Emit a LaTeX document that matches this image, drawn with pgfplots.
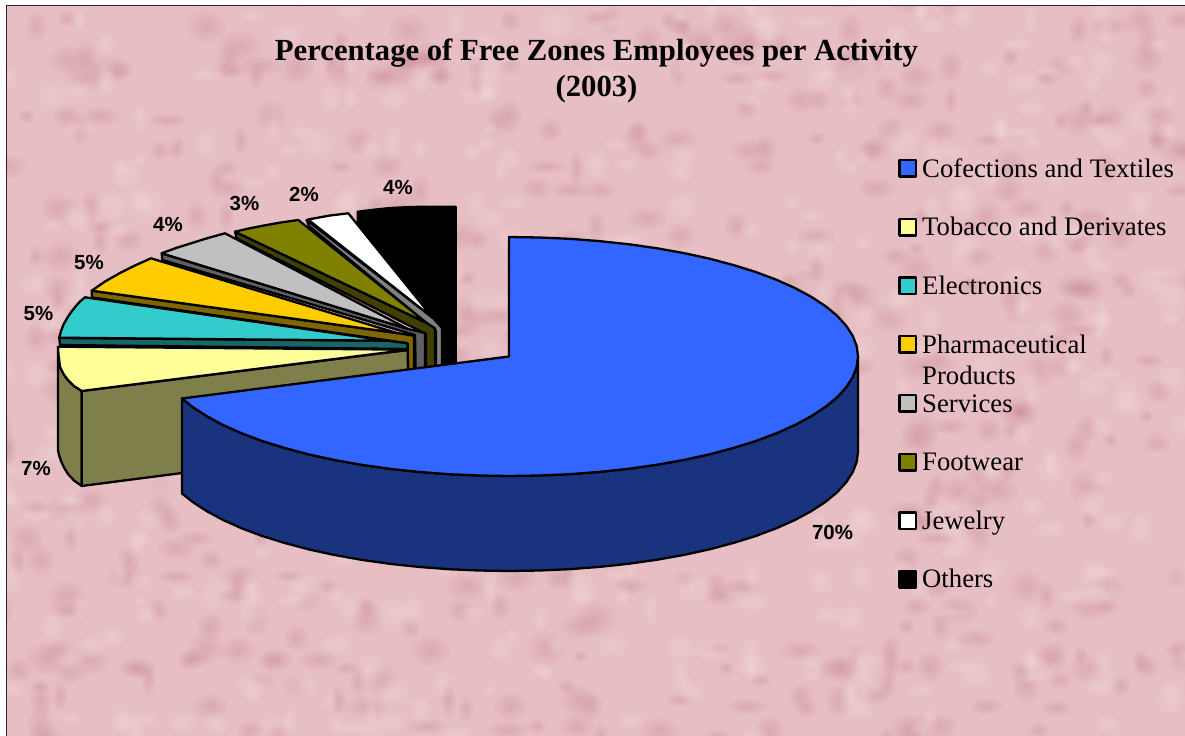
\documentclass[border=0pt]{standalone}
\usepackage{fontspec}
\setmainfont{Liberation Serif}
\newfontfamily\lsans{Liberation Sans}
\usepackage{pgfplots}
\pgfplotsset{compat=1.18}
\usetikzlibrary{fadings}
\tikzfading[name=soft, inner color=transparent!68, outer color=transparent!100]
\definecolor{bgp}{HTML}{E6BEC3}
\definecolor{bgd}{HTML}{C47F89}
\definecolor{bgl}{HTML}{F7E2E4}
\newcount\cA \newcount\cB
\def\setmod#1#2#3{\cA=\numexpr#2\relax \cB=\cA \divide\cB by #3 \multiply\cB by #3 \advance\cA by -\cB \edef#1{\the\cA}}
\begin{document}
\begin{tikzpicture}
\path[use as bounding box] (0,0) rectangle (1185bp,736bp);
\begin{scope}[x=1bp,y=-1bp,yshift=736bp]
\begin{scope}
\clip (7,6) rectangle (1185,736);
\fill[bgp] (7,6) rectangle (1185,736);
% decorative marble texture of the chart's background (no data)
\foreach \i in {1,...,520}{
  \setmod\px{\i*\i*7+\i*389}{1190}
  \setmod\py{\i*\i*3+\i*233}{740}
  \setmod\pa{\i*13}{16}
  \setmod\pb{\i*17}{13}
  \fill[bgd, path fading=soft] (\px,\py) ellipse ({8+\pa} and {7+\pb});
}
\foreach \i in {1,...,480}{
  \setmod\px{\i*\i*11+\i*571}{1190}
  \setmod\py{\i*\i*5+\i*317}{740}
  \setmod\pa{\i*19}{15}
  \setmod\pb{\i*23}{14}
  \fill[bgl, path fading=soft] (\px,\py) ellipse ({8+\pa} and {7+\pb});
}
\end{scope}
\draw[line width=1.6bp,black!85] (6.5,736) -- (6.5,5.5) -- (1185,5.5);
\end{scope}
\begin{axis}[
  at={(0,0)}, anchor=south west, scale only axis,
  width=1185bp, height=736bp,
  xmin=0, xmax=1185, ymin=0, ymax=736, y dir=reverse,
  hide axis, clip=true,
  every axis plot/.append style={line width=2.3bp, line join=round, draw=black},
]
% Others
\addplot[fill=black] coordinates {(357.7,211.7)(374,209.7)(390,208)(406,207.2)(423,206.7)(455.7,206.7)(455.7,372)(442,372)(442,330)(357.7,226)} --cycle;
% Jewelry
\addplot[fill=gray] coordinates {(306.5,220)(309,226)(436,331)(436,372)(442,372)(442,328)(433,318)} --cycle;
\addplot[fill=white] coordinates {(308,219.5)(330,215.5)(348.3,213.3)(433,318)} --cycle;
% Footwear
\addplot[fill={rgb,255:red,64;green,64;blue,0}] coordinates {(235,231.7)(236.7,238.5)(426,334)(426,372)(435,372)(435,328.3)(426.7,323)} --cycle;
\addplot[fill={rgb,255:red,128;green,128;blue,0}] coordinates {(235,231.7)(250,228.2)(266.7,225)(282,222.3)(298.3,220)(426.7,323)} --cycle;
% Services
\addplot[fill={rgb,255:red,96;green,96;blue,96}] coordinates {(161.7,253.3)(162.3,260)(415,335)(415.7,372)(425,372)(425,333)(408,329)} --cycle;
\addplot[fill={rgb,255:red,192;green,192;blue,192}] coordinates {(161.7,253.3)(176,248)(192,243)(208,238)(225,233.3)(408,329)} --cycle;
% Pharmaceutical
\addplot[fill={rgb,255:red,127;green,102;blue,0}] coordinates {(91.7,290.7)(92,297.5)(407.7,343.3)(408,372)(414,372)(414,335.7)(396.7,333)} --cycle;
\addplot[fill={rgb,255:red,255;green,204;blue,0}] coordinates {(91.7,290.7)(105,281.5)(120,273)(135,265.5)(151,258.3)(396.7,333)} --cycle;
% Electronics
\addplot[fill={rgb,255:red,26;green,102;blue,102}] coordinates {(59.3,338)(60,345)(407.5,349)(407.5,343.3)(386.7,340.7)} --cycle;
\addplot[fill={rgb,255:red,51;green,204;blue,204}] coordinates {(59.3,337.7)(61,331)(63.5,324.5)(68,316.7)(72,311)(76,306)(80,301.5)(85,297.3)(386.7,340.7)} --cycle;
% Tobacco
\addplot[fill={rgb,255:red,127;green,127;blue,76}] coordinates {(58,347)(58,450)(59,455)(61,461)(64,467.5)(68,474)(74,480.5)(81.7,486)(81.7,391)(74,386)(68,380)(63.5,374)(60,367)(58.5,355)} --cycle;
\addplot[fill={rgb,255:red,127;green,127;blue,76}] coordinates {(81.7,391)(407.7,350)(408,372)(300,440)(182,473)(81.7,486)} --cycle;
\addplot[fill={rgb,255:red,255;green,255;blue,153}] coordinates {(58,346.7)(58.5,355)(60,367)(63.5,374)(68,380)(74,386)(81.7,391)(390,352)(407.7,350)(407.5,349.5)(390,349.5)} --cycle;
% Confections: side wall, then top
\addplot[fill={rgb,255:red,26;green,51;blue,127}] coordinates {
(858,356.5)(856.7,366.9)(852.7,377.2)(846.1,387.4)(837,397.4)(825.3,407)(811.2,416.2)(794.9,425)(776.3,433.3)(755.8,441)(733.3,448)(709.2,454.4)(683.5,460)(656.5,464.8)(628.4,468.8)(599.3,471.9)(569.6,474.2)(539.4,475.5)(509,476)(478.6,475.5)(448.4,474.2)(418.7,471.9)(389.6,468.8)(361.5,464.8)(334.5,460)(308.8,454.4)(284.7,448)(262.2,441)(241.7,433.3)(223.1,425)(206.8,416.2)(192.7,407)(182,398.5)
(182,493.5)(192.7,502)(206.8,511.2)(223.1,520)(241.7,528.3)(262.2,536)(284.7,543)(308.8,549.4)(334.5,555)(361.5,559.8)(389.6,563.8)(418.7,566.9)(448.4,569.2)(478.6,570.5)(509,571)(539.4,570.5)(569.6,569.2)(599.3,566.9)(628.4,563.8)(656.5,559.8)(683.5,555)(709.2,549.4)(733.3,543)(755.8,536)(776.3,528.3)(794.9,520)(811.2,511.2)(825.3,502)(837,492.4)(846.1,482.4)(852.7,472.2)(856.7,461.9)(858,451.5)} --cycle;
\addplot[fill={rgb,255:red,51;green,102;blue,255}] coordinates {
(509,237)(539.4,237.5)(569.6,238.8)(599.3,241.1)(628.4,244.2)(656.5,248.2)(683.5,253)(709.2,258.6)(733.3,265)(755.8,272)(776.3,279.7)(794.9,288)(811.2,296.8)(825.3,306)(837,315.6)(846.1,325.6)(852.7,335.8)(856.7,346.1)(858,356.5)(856.7,366.9)(852.7,377.2)(846.1,387.4)(837,397.4)(825.3,407)(811.2,416.2)(794.9,425)(776.3,433.3)(755.8,441)(733.3,448)(709.2,454.4)(683.5,460)(656.5,464.8)(628.4,468.8)(599.3,471.9)(569.6,474.2)(539.4,475.5)(509,476)(478.6,475.5)(448.4,474.2)(418.7,471.9)(389.6,468.8)(361.5,464.8)(334.5,460)(308.8,454.4)(284.7,448)(262.2,441)(241.7,433.3)(223.1,425)(206.8,416.2)(192.7,407)(182,398.5)(509,356.5)} --cycle;
% legend swatches
\addplot[line width=2.3bp, fill={rgb,255:red,51;green,102;blue,255}] coordinates {(899.5,160)(916,160)(916,176.5)(899.5,176.5)} --cycle;
\addplot[line width=2.3bp, fill={rgb,255:red,255;green,255;blue,153}] coordinates {(899.5,219)(916,219)(916,235.5)(899.5,235.5)} --cycle;
\addplot[line width=2.3bp, fill={rgb,255:red,51;green,204;blue,204}] coordinates {(899.5,277.5)(916,277.5)(916,294)(899.5,294)} --cycle;
\addplot[line width=2.3bp, fill={rgb,255:red,255;green,204;blue,0}] coordinates {(899.5,336)(916,336)(916,352.5)(899.5,352.5)} --cycle;
\addplot[line width=2.3bp, fill={rgb,255:red,192;green,192;blue,192}] coordinates {(899.5,395)(916,395)(916,411.5)(899.5,411.5)} --cycle;
\addplot[line width=2.3bp, fill={rgb,255:red,128;green,128;blue,0}] coordinates {(899.5,454)(916,454)(916,470.5)(899.5,470.5)} --cycle;
\addplot[line width=2.3bp, fill=white] coordinates {(899.5,512.5)(916,512.5)(916,529)(899.5,529)} --cycle;
\addplot[line width=2.3bp, fill=black] coordinates {(899.5,571)(916,571)(916,587.5)(899.5,587.5)} --cycle;
% title
\node[anchor=base, font=\fontsize{30.8}{34}\selectfont\bfseries, inner sep=0pt] at (axis cs:596.5,60.5) {Percentage of Free Zones Employees per Activity};
\node[anchor=base, font=\fontsize{30.8}{34}\selectfont\bfseries, inner sep=0pt] at (axis cs:596.5,97) {(2003)};
% legend text
\tikzset{lt/.style={anchor=base west, inner sep=0pt, font=\fontsize{26.8}{30}\selectfont},
 pl/.style={anchor=center, inner sep=0pt, font=\fontsize{20.5}{24}\selectfont\lsans\bfseries}}
\node[lt] at (axis cs:922,177.3) {Cofections and Textiles};
\node[lt] at (axis cs:922,235.8) {Tobacco and Derivates};
\node[lt] at (axis cs:922,294.3) {Electronics};
\node[lt] at (axis cs:922,353.3) {Pharmaceutical};
\node[lt] at (axis cs:922,384.3) {Products};
\node[lt] at (axis cs:922,412.3) {Services};
\node[lt] at (axis cs:922,470.8) {Footwear};
\node[lt] at (axis cs:922,529.8) {Jewelry};
\node[lt] at (axis cs:922,587.8) {Others};
% percentage labels
\node[pl] at (axis cs:832.5,532) {70\%};
\node[pl] at (axis cs:36,468) {7\%};
\node[pl] at (axis cs:38.5,313) {5\%};
\node[pl] at (axis cs:89,262) {5\%};
\node[pl] at (axis cs:168,224) {4\%};
\node[pl] at (axis cs:244.5,203) {3\%};
\node[pl] at (axis cs:304,194.5) {2\%};
\node[pl] at (axis cs:398,187) {4\%};
\end{axis}
\end{tikzpicture}
\end{document}
